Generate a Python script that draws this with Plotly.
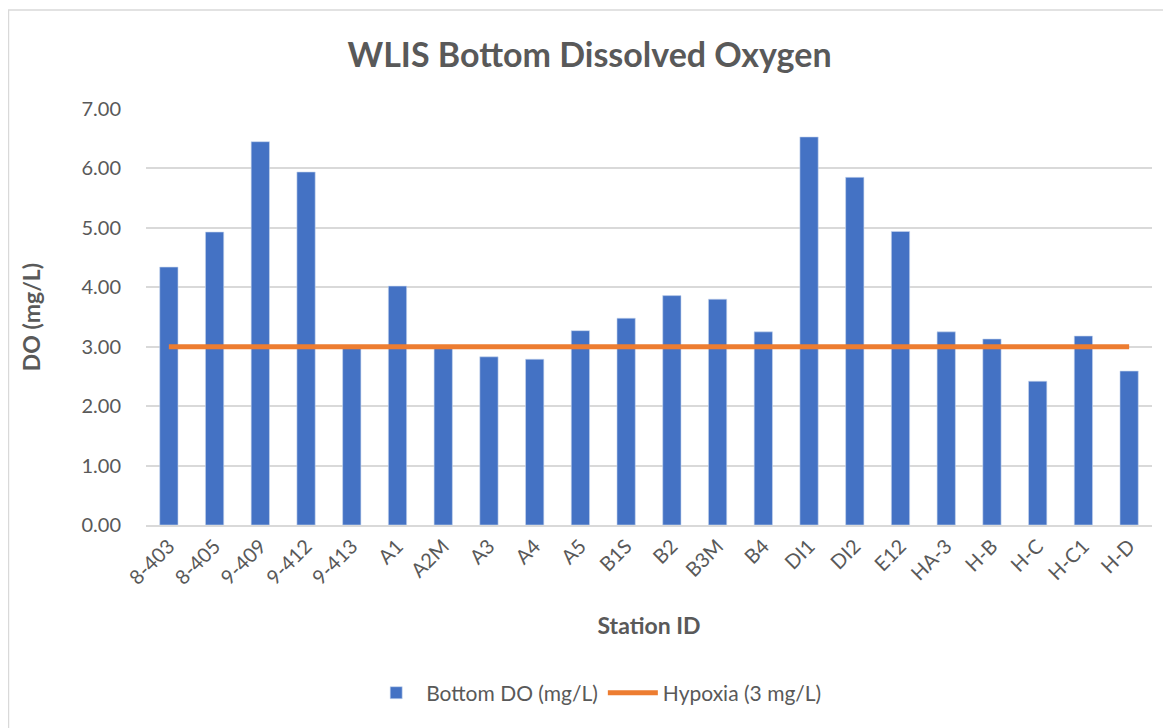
import plotly.graph_objects as go

stations = ["8-403", "8-405", "9-409", "9-412", "9-413", "A1", "A2M", "A3", "A4", "A5",
            "B1S", "B2", "B3M", "B4", "DI1", "DI2", "E12", "HA-3", "H-B", "H-C", "H-C1", "H-D"]
bottom_do = [4.34, 4.93, 6.45, 5.94, 2.98, 4.02, 2.97, 2.83, 2.79, 3.27,
             3.48, 3.86, 3.80, 3.25, 6.53, 5.85, 4.94, 3.25, 3.13, 2.42, 3.18, 2.59]
hypoxia = [3.0] * len(stations)
y_ticks = [0, 1, 2, 3, 4, 5, 6, 7]

FONT = "Lato, 'Open Sans', sans-serif"
GREY = "#595959"

fig = go.Figure()
fig.add_trace(go.Bar(
    x=stations, y=bottom_do, name="Bottom DO (mg/L)",
    marker=dict(color="#4472C4", line=dict(color="#c9d6ee", width=0.6)),
))
fig.add_trace(go.Scatter(
    x=stations, y=hypoxia, name="Hypoxia (3 mg/L)", mode="lines",
    line=dict(color="#ED7D31", width=5),
))

fig.update_layout(
    width=1163, height=720,
    margin=dict(l=138, r=19, t=101, b=203, autoexpand=False),
    paper_bgcolor="white", plot_bgcolor="white",
    bargap=0.6,
    font=dict(family=FONT, color=GREY, size=20),
    title=dict(text="<b>WLIS Bottom Dissolved Oxygen</b>", x=0.5, xanchor="center",
               y=0.935, yanchor="middle", font=dict(size=34, color=GREY, family=FONT)),
    xaxis=dict(
        tickangle=-45, tickfont=dict(size=20, color=GREY),
        showline=True, linecolor="#d9d9d9", linewidth=1.5,
        showgrid=False, ticks="",
        title=dict(text="<b>Station ID</b>", font=dict(size=23, color=GREY), standoff=30),
    ),
    yaxis=dict(
        range=[0, 7], tickvals=y_ticks, tickformat=".2f",
        tickfont=dict(size=20, color=GREY),
        showgrid=True, gridcolor="#d9d9d9", gridwidth=1.5,
        zeroline=False, ticks="", ticklabelstandoff=24,
        title=dict(text="<b>DO (mg/L)</b>", font=dict(size=23, color=GREY), standoff=34),
    ),
    legend=dict(orientation="h", x=0.448, xanchor="center", y=-0.404, yanchor="middle",
                font=dict(size=21, color=GREY), itemwidth=50),
    shapes=[dict(type="rect", xref="paper", yref="paper",
                 x0=-0.1367, x1=1.2, y0=-1.0, y1=1.238,
                 line=dict(color="#d9d9d9", width=1.5), fillcolor="rgba(0,0,0,0)", layer="below")],
)

fig.write_html("out.html")
